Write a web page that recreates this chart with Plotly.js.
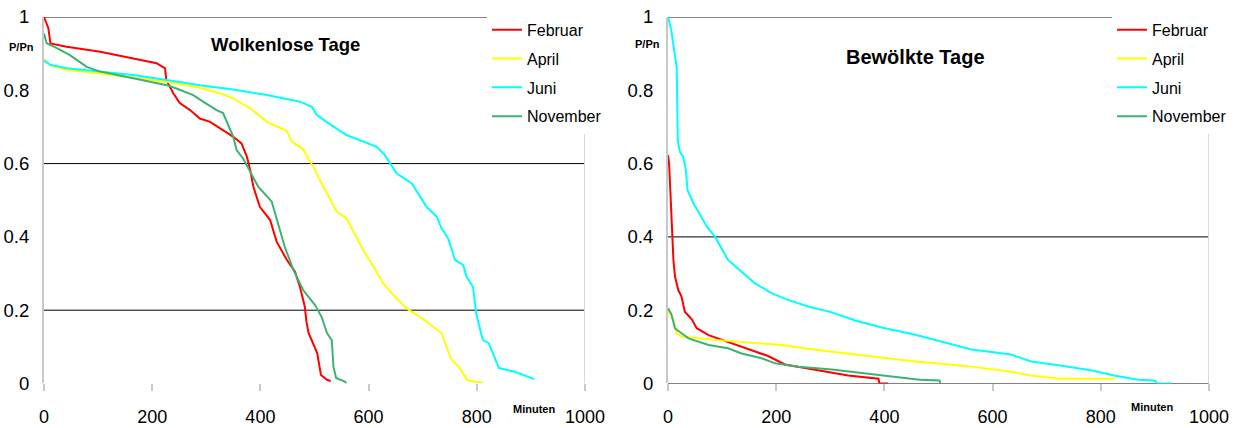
<!DOCTYPE html>
<html>
<head>
<meta charset="utf-8">
<script src="https://cdn.plot.ly/plotly-3.0.1.min.js"></script>
<style>html,body{margin:0;padding:0;background:#fff}#chart{width:1235px;height:428px}</style>
</head>
<body>
<div id="chart"></div>
<script>
// ---- Data ----
const seriesNames = ["Februar", "April", "Juni", "November"];
const seriesColors = ["#FF0000", "#FFFF00", "#00FFFF", "#3CB371"];
const xTickVals = [0, 200, 400, 600, 800, 1000];
const yTickVals = [0, 0.2, 0.4, 0.6, 0.8, 1];
const yTickText = ["0", "0.2", "0.4", "0.6", "0.8", "1"];
const titleClear = "Wolkenlose Tage";
const titleCloudy = "Bewölkte Tage";
const yLabel = "P/Pn";
const xLabel = "Minuten";

// Wolkenlose Tage (clear days)
const clearFebX = [0, 3, 8, 12, 42, 104, 165, 208, 224, 226, 239, 251, 270, 288, 307, 325, 350, 365, 375, 381, 387, 399, 418, 430, 449, 464, 473, 482, 485, 489, 497, 505, 512, 523, 530];
const clearFebY = [1.0, 0.99, 0.97, 0.928, 0.919, 0.905, 0.888, 0.874, 0.86, 0.828, 0.792, 0.765, 0.746, 0.723, 0.714, 0.696, 0.673, 0.655, 0.619, 0.583, 0.537, 0.482, 0.446, 0.387, 0.337, 0.305, 0.264, 0.21, 0.17, 0.138, 0.11, 0.083, 0.023, 0.01, 0.007];
const clearAprX = [0, 11, 42, 104, 165, 227, 288, 325, 350, 381, 412, 449, 458, 479, 488, 498, 510, 526, 541, 559, 575, 590, 609, 627, 646, 670, 701, 735, 753, 767, 782, 795, 811];
const clearAprY = [0.885, 0.869, 0.855, 0.846, 0.834, 0.823, 0.807, 0.792, 0.778, 0.751, 0.714, 0.689, 0.66, 0.639, 0.614, 0.592, 0.555, 0.51, 0.469, 0.451, 0.405, 0.364, 0.319, 0.273, 0.241, 0.205, 0.176, 0.137, 0.064, 0.046, 0.01, 0.005, 0.003];
const clearJunX = [0, 11, 42, 104, 165, 227, 288, 350, 412, 473, 495, 504, 522, 559, 590, 615, 630, 643, 652, 680, 695, 707, 726, 735, 747, 760, 775, 781, 793, 799, 811, 822, 841, 870, 906];
const clearJunY = [0.881, 0.87, 0.86, 0.851, 0.842, 0.828, 0.814, 0.802, 0.787, 0.769, 0.755, 0.733, 0.714, 0.678, 0.66, 0.646, 0.623, 0.592, 0.573, 0.546, 0.51, 0.482, 0.455, 0.423, 0.396, 0.337, 0.323, 0.291, 0.264, 0.19, 0.119, 0.11, 0.042, 0.032, 0.012];
const clearNovX = [0, 5, 24, 48, 79, 104, 165, 227, 245, 276, 294, 319, 331, 344, 350, 356, 368, 381, 396, 421, 433, 445, 461, 479, 501, 513, 523, 532, 535, 540, 556, 559];
const clearNovY = [0.955, 0.928, 0.915, 0.896, 0.864, 0.851, 0.833, 0.814, 0.805, 0.787, 0.769, 0.746, 0.738, 0.69, 0.673, 0.637, 0.614, 0.578, 0.537, 0.496, 0.437, 0.373, 0.31, 0.255, 0.214, 0.182, 0.138, 0.118, 0.046, 0.015, 0.005, 0.0];

// Bewölkte Tage (cloudy days)
const cloudFebX = [0, 2, 4, 6, 8, 10, 13, 19, 25, 31, 44, 53, 75, 111, 148, 185, 216, 272, 333, 389, 391, 407];
const cloudFebY = [0.623, 0.6, 0.537, 0.464, 0.41, 0.337, 0.291, 0.255, 0.237, 0.196, 0.175, 0.151, 0.132, 0.114, 0.094, 0.075, 0.052, 0.037, 0.022, 0.013, 0, 0];
const cloudAprX = [0, 10, 16, 25, 87, 148, 210, 272, 333, 395, 457, 520, 561, 634, 671, 722, 825];
const cloudAprY = [0.2, 0.173, 0.137, 0.128, 0.119, 0.113, 0.105, 0.092, 0.082, 0.072, 0.06, 0.052, 0.046, 0.032, 0.022, 0.013, 0.013];
const cloudJunX = [0, 2, 6, 13, 16, 17, 18, 22, 28, 33, 36, 47, 59, 72, 87, 111, 136, 161, 192, 222, 259, 303, 346, 395, 457, 487, 561, 634, 671, 722, 781, 825, 869, 899, 905, 932];
const cloudJunY = [1.0, 0.99, 0.965, 0.892, 0.864, 0.774, 0.664, 0.632, 0.619, 0.583, 0.528, 0.492, 0.46, 0.428, 0.4, 0.337, 0.305, 0.273, 0.246, 0.228, 0.21, 0.194, 0.172, 0.153, 0.133, 0.121, 0.093, 0.079, 0.06, 0.05, 0.036, 0.022, 0.01, 0.008, 0, 0];
const cloudNovX = [0, 6, 13, 25, 38, 75, 111, 136, 173, 198, 241, 303, 364, 420, 465, 502, 503];
const cloudNovY = [0.205, 0.19, 0.15, 0.138, 0.123, 0.105, 0.096, 0.082, 0.069, 0.055, 0.046, 0.038, 0.028, 0.017, 0.01, 0.008, 0];

const clearX = [clearFebX, clearAprX, clearJunX, clearNovX];
const clearY = [clearFebY, clearAprY, clearJunY, clearNovY];
const cloudX = [cloudFebX, cloudAprX, cloudJunX, cloudNovX];
const cloudY = [cloudFebY, cloudAprY, cloudJunY, cloudNovY];

const FONT = 'Arial, "Liberation Sans", sans-serif';
const traces = [];
seriesNames.forEach((n, i) => {
  traces.push({x: clearX[i], y: clearY[i], type: 'scatter', mode: 'lines', name: n,
    line: {color: seriesColors[i], width: 2}, xaxis: 'x', yaxis: 'y',
    legend: 'legend', legendgroup: 'a' + i, hoverinfo: 'skip'});
});
seriesNames.forEach((n, i) => {
  traces.push({x: cloudX[i], y: cloudY[i], type: 'scatter', mode: 'lines', name: n,
    line: {color: seriesColors[i], width: 2}, xaxis: 'x2', yaxis: 'y2',
    legend: 'legend2', legendgroup: 'b' + i, hoverinfo: 'skip'});
});

const yDom = [0.104, 0.9603];
function xAx(dom, anchor) {
  return {domain: dom, anchor: anchor, range: [0, 1000], tickvals: xTickVals,
    ticks: 'outside', ticklen: 7, tickwidth: 2, tickcolor: '#C8C8C8',
    showgrid: false, zeroline: false, showline: false,
    tickfont: {family: FONT, size: 18, color: '#000'}, ticklabelstandoff: 10, fixedrange: true};
}
function yAx(anchor) {
  return {domain: yDom, anchor: anchor, range: [0, 1], tickvals: yTickVals, ticktext: yTickText,
    showgrid: false, zeroline: false, showline: true, linecolor: '#C8C8C8', linewidth: 2,
    ticks: '', tickfont: {family: FONT, size: 18.5, color: '#000'}, ticklabelstandoff: 9, fixedrange: true};
}

function hline(xr, yr, y) {
  return {type: 'line', xref: xr, yref: yr, x0: -5, x1: 1000, y0: y, y1: y,
    line: {color: '#000', width: 1}, layer: 'below'};
}
const shapes = [
  hline('x', 'y', 0.2), hline('x', 'y', 0.6), hline('x', 'y', 1),
  hline('x2', 'y2', 0), hline('x2', 'y2', 0.4), hline('x2', 'y2', 1),
  {type: 'line', xref: 'x', yref: 'y', x0: 1000, x1: 1000, y0: -0.02, y1: 1, line: {color: '#D8D8D8', width: 2}, layer: 'below'},
  {type: 'line', xref: 'x2', yref: 'y2', x0: 1000, x1: 1000, y0: -0.02, y1: 1, line: {color: '#D8D8D8', width: 2}, layer: 'below'}
];

function ann(text, x, y, size) {
  return {text: text, xref: 'paper', yref: 'paper', x: x, y: y, xanchor: 'center', yanchor: 'middle',
    showarrow: false, font: {family: FONT, size: size, color: '#000'}};
}
const annotations = [
  ann('<b>' + titleClear + '</b>', 0.2308, 0.8949, 18.5),
  ann('<b>' + titleCloudy + '</b>', 0.7417, 0.8668, 20),
  ann('<b>' + yLabel + '</b>', 0.0178, 0.890, 11),
  ann('<b>' + yLabel + '</b>', 0.5239, 0.897, 11),
  ann('<b>' + xLabel + '</b>', 0.4324, 0.0444, 11),
  ann('<b>' + xLabel + '</b>', 0.9328, 0.049, 11)
];

const legendBase = {xanchor: 'left', yanchor: 'top', y: 0.970, bgcolor: '#fff', borderwidth: 0,
  font: {family: FONT, size: 16, color: '#000'}, tracegroupgap: 5, traceorder: 'grouped'};

const layout = {
  width: 1235, height: 428, margin: {l: 0, r: 0, t: 0, b: 0},
  paper_bgcolor: '#fff', plot_bgcolor: '#fff', font: {family: FONT},
  showlegend: true,
  xaxis: xAx([0.0356, 0.4737], 'y'), yaxis: yAx('x'),
  xaxis2: xAx([0.5409, 0.9789], 'y2'), yaxis2: yAx('x2'),
  legend: Object.assign({x: 0.3943}, legendBase),
  legend2: Object.assign({x: 0.9004}, legendBase),
  shapes: shapes, annotations: annotations
};

Plotly.newPlot('chart', traces, layout, {staticPlot: true, displayModeBar: false});
</script>
</body>
</html>
